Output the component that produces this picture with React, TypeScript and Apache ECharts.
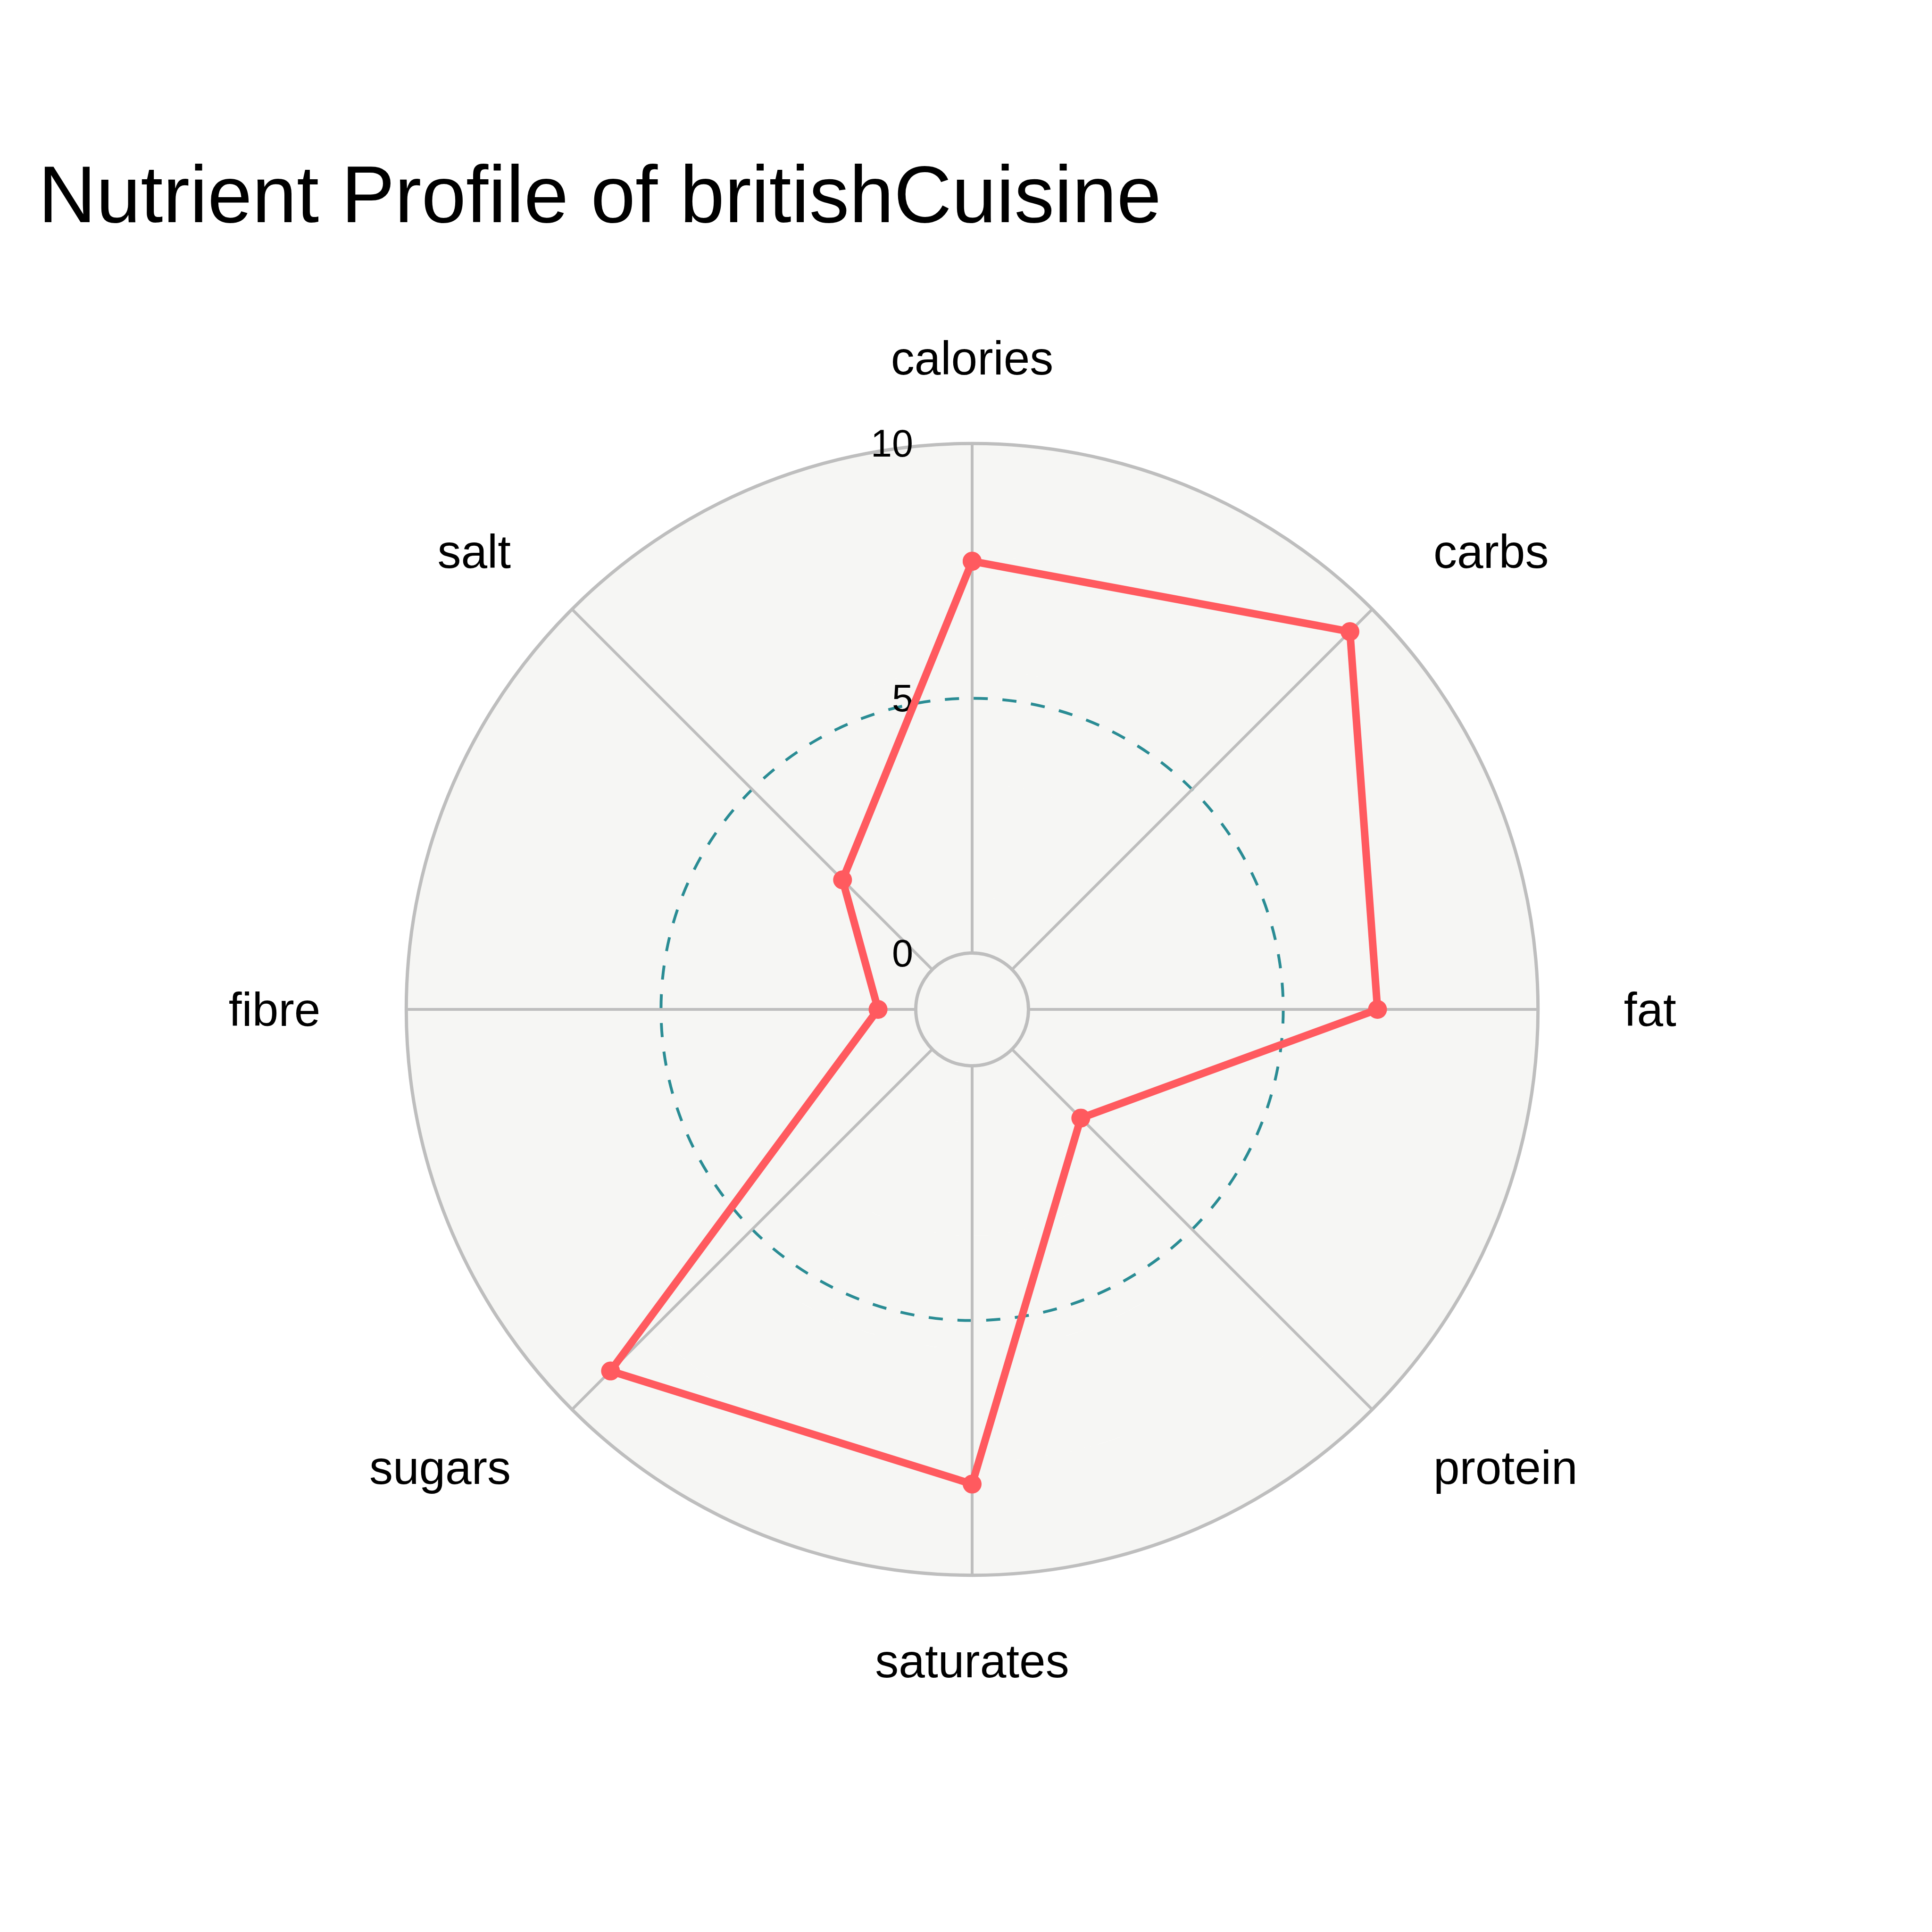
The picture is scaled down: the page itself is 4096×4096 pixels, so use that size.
import React, { useEffect, useRef } from "react";
import * as echarts from "echarts";

const categories = ["calories", "carbs", "fat", "protein", "saturates", "sugars", "fibre", "salt"];
const values = [7.69, 9.38, 6.85, 1.91, 8.21, 8.93, 0.74, 2.49];
const radialTicks = [0, 5, 10];
const titleText = "Nutrient Profile of britishCuisine";

const FONT = "'Liberation Sans', Arial, Helvetica, sans-serif";
const GRID = "#bebebe";
const BG = "#f6f6f4";
const TEAL = "#2a8c94";
const RED = "#ff5a5f";

// label box tweaks by position around the circle (style only)
function labelStyle(i: number, n: number) {
  const step = n / 8;
  const k = Math.round(i / step) % 8;
  if (k === 0 || k === 4) return { lineHeight: 100 };
  if (k === 2) return { lineHeight: 100, padding: [0, 0, 0, 51] };
  if (k === 6) return { lineHeight: 100, padding: [0, 51, 0, 0] };
  if (k === 1 || k === 3) return { lineHeight: 60, padding: [0, 0, 0, 37] };
  return { lineHeight: 60, padding: [0, 37, 0, 0] };
}

export default function App() {
  const ref = useRef<HTMLDivElement>(null);
  useEffect(() => {
    if (!ref.current) return;
    const chart = echarts.init(ref.current, undefined, { renderer: "svg" });
    const center = [2061, 2140];
    const r0 = 119.5;
    const R = 1199.7;
    const n = categories.length;
    const lineData = values.map((v, i) => [v, i]);
    lineData.push([values[0], n]);
    const hidden = {
      axisLine: { show: false },
      axisTick: { show: false },
      axisLabel: { show: false },
      splitLine: { show: false },
    };
    chart.setOption({
      animation: false,
      backgroundColor: "#ffffff",
      title: {
        text: titleText,
        left: 76,
        top: 322,
        textStyle: { fontFamily: FONT, fontSize: 170, fontWeight: "normal", color: "#000" },
      },
      polar: [
        { center, radius: [0, R] },
        { center, radius: [r0, R] },
        { center, radius: [0, R] },
      ],
      angleAxis: [
        { polarIndex: 0, type: "value", min: 0, max: n, interval: 1, startAngle: 90, ...hidden, z: 0 },
        {
          polarIndex: 1,
          type: "value",
          min: 0,
          max: n,
          interval: 1,
          startAngle: 90,
          clockwise: true,
          axisLine: { show: true, lineStyle: { color: GRID, width: 7 } },
          axisTick: { show: false },
          axisLabel: { show: false },
          splitLine: { show: true, lineStyle: { color: GRID, width: 6 } },
          z: 1,
        },
        {
          polarIndex: 2,
          type: "category",
          data: categories.map((c, i) => ({ value: c, textStyle: labelStyle(i, n) })),
          boundaryGap: false,
          startAngle: 90,
          clockwise: true,
          axisLine: { show: false },
          axisTick: { show: false },
          splitLine: { show: false },
          axisLabel: {
            show: true,
            interval: 0,
            margin: 131,
            fontFamily: FONT,
            fontSize: 100,
            lineHeight: 100,
            color: "#000",
          },
          z: 3,
        },
      ],
      radiusAxis: [
        {
          polarIndex: 0,
          type: "value",
          min: 0,
          max: 1,
          ...hidden,
          splitArea: { show: true, areaStyle: { color: [BG] } },
          z: 0,
        },
        {
          polarIndex: 1,
          type: "value",
          min: radialTicks[0],
          max: radialTicks[radialTicks.length - 1],
          interval: radialTicks[1] - radialTicks[0],
          axisLine: { show: false },
          axisTick: { show: false },
          axisLabel: { show: true, margin: 125, fontFamily: FONT, fontSize: 81, color: "#000" },
          splitLine: {
            show: true,
            lineStyle: { color: ["rgba(0,0,0,0)", TEAL, "rgba(0,0,0,0)"], width: 6, type: [30, 31] },
          },
          splitArea: { show: false },
          z: 1,
        },
        { polarIndex: 2, type: "value", min: 0, max: 1, ...hidden, z: 0 },
      ],
      series: [
        {
          type: "line",
          coordinateSystem: "polar",
          polarIndex: 1,
          data: lineData,
          symbol: "circle",
          symbolSize: 40,
          showSymbol: true,
          clip: false,
          lineStyle: { color: RED, width: 16 },
          itemStyle: { color: RED },
          z: 5,
        },
      ],
    });
    return () => chart.dispose();
  }, []);
  return (
    <div
      ref={ref}
      style={{ position: "fixed", left: 0, top: 0, width: 4096, height: 4096, background: "#fff" }}
    />
  );
}
